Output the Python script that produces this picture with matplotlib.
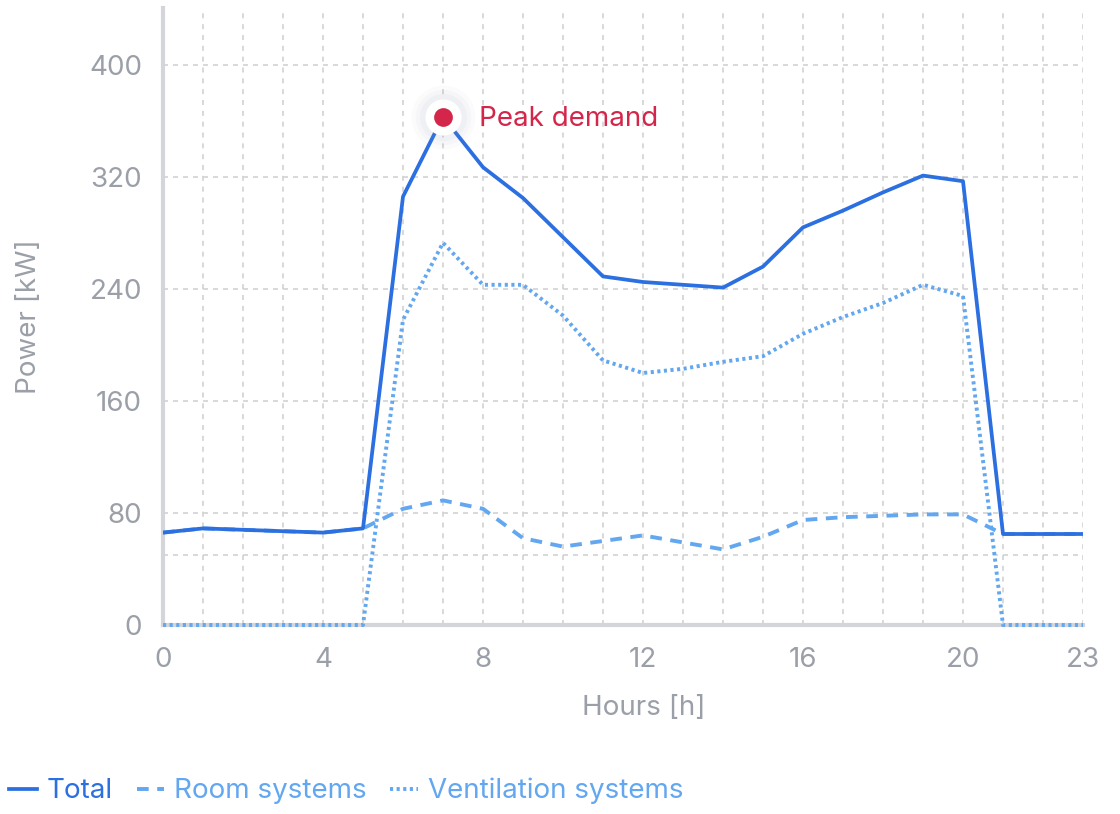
import matplotlib
matplotlib.use("Agg")
import matplotlib.pyplot as plt
from matplotlib.ticker import FixedLocator

plt.rcParams['font.family'] = ['Inter', 'DejaVu Sans']

hours = list(range(24))
total = [66, 69, 68, 67, 66, 69, 306, 363, 327, 305, 277, 249, 245, 243, 241, 256,
         284, 296, 309, 321, 317, 65, 65, 65]
room = [66, 69, 68, 67, 66, 69, 83, 89, 83, 62, 56, 60, 64, 59, 54, 63,
        75, 77, 78, 79, 79, 65, 65, 65]
vent = [0, 0, 0, 0, 0, 0, 218, 273, 243, 243, 221, 189, 180, 183, 188, 192,
        208, 220, 230, 243, 235, 0, 0, 0]
xticks = [0, 4, 8, 12, 16, 20, 23]
yticks = [0, 80, 160, 240, 320, 400]
peak_hour = 7
peak_value = 363
ref_level = 50

C_TOTAL = '#2b6fe0'
C_LIGHT = '#62a7ef'
C_RED = '#d4264b'
C_TEXT = '#9a9fa8'
C_GRID = '#d2d2d2'
C_AXIS = '#d3d5da'

fig = plt.figure(figsize=(11.2, 8.14), dpi=100)
ax = fig.add_axes([163/1120, 1-625/814, (1083-163)/1120, (625-8)/814])
ax.set_xlim(0, 23)
ax.set_ylim(0, (625-8)/1.4)

# grid
for h in hours:
    if h == 0:
        continue
    ax.axvline(h, color=C_GRID, lw=1.2, ls=(0, (3, 3.5)), zorder=0)
for yv in yticks[1:] + [ref_level]:
    ax.axhline(yv, color=C_GRID, lw=1.2, ls=(0, (3, 3)), zorder=0)

ax.plot(hours, vent, color=C_LIGHT, lw=2.8, ls=(0, (0.8, 0.9)), label='Ventilation systems',
        zorder=4, clip_on=False)
ax.plot(hours, room, color=C_LIGHT, lw=2.8, ls=(0, (3.0, 2.2)), label='Room systems', zorder=4)
ax.plot(hours, total, color=C_TOTAL, lw=2.7, label='Total', zorder=5)

# peak marker with glow
for s, a in [(46, 0.03), (40, 0.04), (34, 0.05)]:
    ax.plot([peak_hour], [peak_value], 'o', ms=s, color='#8090a8', alpha=a, mec='none', zorder=6)
ax.plot([peak_hour], [peak_value], 'o', ms=26, color='white', mec='none', zorder=7)
ax.plot([peak_hour], [peak_value], 'o', ms=13.5, color=C_RED, mec='none', zorder=8)
ax.annotate('Peak demand', (peak_hour, peak_value), xytext=(26, -1.5), textcoords='offset points',
            color=C_RED, fontsize=20, va='center', ha='left', zorder=8)

for side in ['top', 'right']:
    ax.spines[side].set_visible(False)
for side in ['left', 'bottom']:
    ax.spines[side].set_color(C_AXIS)
    ax.spines[side].set_linewidth(3)
    ax.spines[side].set_zorder(3)

ax.xaxis.set_major_locator(FixedLocator(xticks))
ax.yaxis.set_major_locator(FixedLocator(yticks))
ax.tick_params(axis='both', colors=C_TEXT, labelsize=20, length=0)
ax.tick_params(axis='x', pad=16)
ax.tick_params(axis='y', pad=15)
ax.set_xlabel('Hours [h]', color=C_TEXT, fontsize=20, labelpad=16)
ax.xaxis.label.set_x((644 - 163) / 920)
ax.set_ylabel('Power [kW]', color=C_TEXT, fontsize=20, labelpad=34)

handles, labels = ax.get_legend_handles_labels()
order = [2, 1, 0]
leg = fig.legend([handles[i] for i in order], [labels[i] for i in order],
                 loc='center left', bbox_to_anchor=(-0.014, 1-791/814), ncol=3, frameon=False,
                 fontsize=20, handlelength=1.0, handletextpad=0.35, columnspacing=0.85,
                 labelcolor='linecolor')

fig.savefig('out.png', dpi=100)
